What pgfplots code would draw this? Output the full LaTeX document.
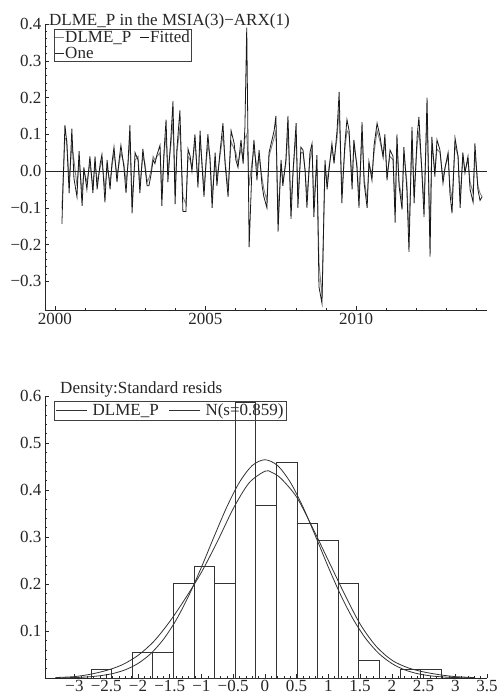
\documentclass[border=0pt]{standalone}
\usepackage{pgfplots}
\pgfplotsset{compat=1.18}
\usepackage{pgfplotstable}
\usepackage{fontspec}
\setmainfont{Liberation Serif}

\pgfplotstableread{
year act fit
2000.23 -0.144 -0.100
2000.33 0.125 0.090
2000.39 0.080 0.085
2000.47 -0.060 -0.030
2000.56 0.115 0.070
2000.63 -0.020 0.030
2000.73 -0.070 -0.040
2000.80 0.055 0.030
2000.90 -0.095 -0.060
2000.96 0.010 0.000
2001.06 -0.050 -0.030
2001.16 0.040 0.020
2001.26 -0.060 -0.040
2001.33 0.040 0.020
2001.40 -0.050 -0.030
2001.50 0.020 0.010
2001.56 0.045 0.030
2001.66 -0.085 -0.050
2001.73 0.030 0.010
2001.83 -0.050 -0.030
2001.89 0.020 0.010
2001.96 0.065 0.050
2002.06 -0.030 -0.010
2002.13 0.030 0.020
2002.19 0.070 0.050
2002.29 0.010 0.020
2002.36 -0.060 -0.030
2002.43 0.030 0.020
2002.49 0.125 0.090
2002.56 -0.115 -0.080
2002.66 0.050 0.030
2002.76 0.030 0.040
2002.82 -0.060 -0.040
2002.92 0.060 0.040
2002.99 0.010 0.020
2003.06 -0.040 -0.030
2003.12 -0.040 -0.020
2003.19 -0.010 0.000
2003.26 0.030 0.040
2003.32 0.020 0.030
2003.39 0.045 0.040
2003.49 0.070 0.050
2003.55 -0.095 -0.060
2003.62 0.050 0.040
2003.69 0.140 0.100
2003.75 -0.030 0.000
2003.85 0.090 0.070
2003.92 0.190 0.140
2003.99 -0.090 -0.050
2004.05 0.060 0.050
2004.15 0.165 0.120
2004.25 -0.110 -0.070
2004.35 -0.110 -0.090
2004.42 0.060 0.040
2004.49 0.040 0.030
2004.55 0.000 0.010
2004.65 0.100 0.080
2004.75 -0.045 -0.030
2004.82 0.110 0.080
2004.88 0.020 0.030
2004.95 -0.070 -0.050
2005.02 0.030 0.020
2005.08 0.100 0.070
2005.15 0.030 0.040
2005.22 -0.100 -0.070
2005.32 0.050 0.030
2005.38 -0.040 -0.020
2005.48 0.050 0.040
2005.58 0.130 0.100
2005.65 0.020 0.030
2005.75 -0.070 -0.050
2005.85 0.110 0.080
2005.95 0.076 0.060
2006.01 0.030 0.050
2006.08 0.010 0.020
2006.18 0.085 0.060
2006.25 0.020 0.030
2006.31 0.120 0.090
2006.37 0.390 0.100
2006.45 -0.207 -0.040
2006.54 0.000 0.020
2006.61 0.085 0.060
2006.71 -0.025 0.010
2006.78 0.057 0.040
2006.88 -0.040 -0.020
2006.94 -0.070 -0.050
2007.04 -0.100 -0.080
2007.11 0.050 0.040
2007.21 0.085 0.070
2007.28 0.110 0.090
2007.34 0.150 0.110
2007.41 -0.165 -0.120
2007.51 0.030 0.020
2007.57 -0.040 -0.030
2007.67 0.030 0.020
2007.74 0.150 0.110
2007.84 -0.130 -0.090
2007.91 0.000 0.000
2008.01 0.130 0.100
2008.07 -0.100 -0.070
2008.17 0.065 0.050
2008.24 0.057 0.050
2008.31 0.000 0.000
2008.37 -0.100 -0.070
2008.47 0.050 0.030
2008.54 0.075 0.060
2008.60 -0.125 -0.090
2008.70 0.043 0.030
2008.77 -0.315 -0.250
2008.87 -0.360 -0.340
2008.97 0.030 0.010
2009.04 -0.050 -0.030
2009.10 0.000 0.010
2009.20 0.075 0.060
2009.27 0.020 0.030
2009.37 0.110 0.090
2009.44 0.215 0.170
2009.53 -0.087 -0.060
2009.63 0.075 0.060
2009.70 0.140 0.110
2009.77 0.110 0.100
2009.87 -0.050 -0.030
2009.93 0.085 0.070
2010.03 0.010 0.020
2010.10 -0.100 -0.070
2010.20 0.133 0.100
2010.27 -0.033 -0.020
2010.37 -0.100 -0.080
2010.43 0.025 0.020
2010.53 -0.025 -0.010
2010.60 0.070 0.050
2010.70 0.130 0.110
2010.80 0.093 0.080
2010.90 0.038 0.040
2010.96 0.100 0.080
2011.03 -0.025 -0.010
2011.13 0.057 0.040
2011.23 0.040 0.030
2011.30 -0.140 -0.100
2011.36 0.100 0.070
2011.43 -0.040 -0.030
2011.53 -0.105 -0.080
2011.59 0.065 0.050
2011.69 -0.050 -0.030
2011.76 -0.220 -0.170
2011.86 0.120 0.090
2011.93 -0.087 -0.060
2012.03 0.093 0.070
2012.09 0.147 0.110
2012.19 -0.005 0.000
2012.26 -0.125 -0.090
2012.36 0.200 0.150
2012.46 -0.233 -0.180
2012.52 0.093 0.070
2012.62 -0.015 0.000
2012.69 0.085 0.060
2012.79 0.057 0.050
2012.89 -0.033 -0.020
2012.96 0.010 0.010
2013.06 0.050 0.040
2013.12 -0.060 -0.040
2013.19 -0.115 -0.080
2013.29 0.090 0.070
2013.39 0.040 0.040
2013.46 -0.100 -0.070
2013.55 0.050 0.040
2013.62 -0.005 0.000
2013.72 0.040 0.030
2013.79 -0.050 -0.030
2013.89 -0.085 -0.060
2013.95 0.075 0.050
2014.05 -0.050 -0.040
2014.12 -0.080 -0.060
2014.19 -0.070 -0.070
}\tsdata

\pgfplotstableread{
x h
-2.740 0.0183
-2.416 0.0
-2.091 0.055
-1.767 0.055
-1.442 0.2018
-1.118 0.2385
-0.793 0.2018
-0.469 0.587
-0.144 0.367
0.180 0.4585
0.505 0.330
0.829 0.2935
1.154 0.2018
1.478 0.0367
1.803 0.0
2.127 0.0183
2.452 0.0183
2.776 0.0183
}\histdata

\pgfplotstableread{
x k
-3.30 0.001
-3.00 0.003
-2.75 0.008
-2.50 0.016
-2.25 0.028
-2.00 0.048
-1.75 0.078
-1.50 0.120
-1.25 0.170
-1.00 0.225
-0.75 0.290
-0.50 0.360
-0.25 0.415
0.00 0.440
0.10 0.438
0.25 0.425
0.50 0.385
0.75 0.320
1.00 0.250
1.25 0.180
1.50 0.115
1.75 0.068
2.00 0.038
2.25 0.022
2.50 0.013
2.75 0.007
3.00 0.003
3.30 0.001
}\kerndata

\pgfplotstableread{
x n
-3.2 0.00045
-3.0 0.0010
-2.8 0.0023
-2.6 0.0048
-2.4 0.0094
-2.2 0.0175
-2.0 0.0309
-1.8 0.0517
-1.6 0.0820
-1.4 0.1231
-1.2 0.1750
-1.0 0.2358
-0.8 0.3010
-0.6 0.3639
-0.4 0.4167
-0.2 0.4520
0.0 0.4644
0.2 0.4520
0.4 0.4167
0.6 0.3639
0.8 0.3010
1.0 0.2358
1.2 0.1750
1.4 0.1231
1.6 0.0820
1.8 0.0517
2.0 0.0309
2.2 0.0175
2.4 0.0094
2.6 0.0048
2.8 0.0023
3.0 0.0010
3.2 0.00045
}\normdata

\newcommand{\fs}{\fontsize{17}{19}\selectfont}

\begin{document}
\begin{tikzpicture}
\useasboundingbox (0pt,0pt) rectangle (500pt,-695pt);
\pgfplotsset{
  common/.style={
    scale only axis,
    width=442pt,
    axis lines=left,
    axis line style={-, black!85, line width=0.6pt},
    tick align=inside,
    major tick length=4pt,
    minor tick length=2pt,
    tick style={black!85, line width=0.5pt},
    ticklabel style={font=\fs, text=black!85},
    clip mode=individual,
    legend cell align=left,
    legend style={fill=none, draw=black!75, line width=0.5pt, font=\fs, text=black!85,
      outer sep=0pt},
  }
}
\begin{axis}[common,
  at={(45pt,-310pt)}, anchor=south west,
  height=286pt,
  xmin=1999.668, xmax=2014.352, ymin=-0.378, ymax=0.4,
  xtick={2000,2005,2010}, xticklabels={2000,2005,2010},
  minor xtick={2001,2002,2003,2004,2006,2007,2008,2009,2011,2012,2013,2014},
  ytick={-0.3,-0.2,-0.1,0,0.1,0.2,0.3,0.4},
  yticklabels={−0.3,−0.2,−0.1,0.0,0.1,0.2,0.3,0.4},
  minor y tick num=4,
  legend columns=2,
  legend style={at={(0.02,0.981)}, anchor=north west, inner sep=1pt,
    nodes={inner sep=0.5pt}, row sep=2pt, column sep=0pt,
    /tikz/every even column/.append style={column sep=8pt}},
  legend image code/.code={\draw[#1] (0pt,0pt) -- (9pt,0pt);},
]
\addplot[black!50, line width=0.9pt] table[x=year,y=fit]{\tsdata};
\addlegendentry{DLME\_P}
\addplot[black!90, line width=0.8pt] table[x=year,y=act]{\tsdata};
\addlegendentry{Fitted}
\addplot[black!85, line width=0.6pt] coordinates {(1999.668,0) (2014.352,0)};
\addlegendentry{One}
\node[anchor=base west, font=\fs, text=black!85, inner sep=0pt] at (axis description cs:0.009,0.993) {DLME\_P in the MSIA(3)−ARX(1)};
\end{axis}

\begin{axis}[common,
  at={(45pt,-678pt)}, anchor=south west,
  height=282pt,
  xmin=-3.465, xmax=3.5, ymin=0, ymax=0.6,
  xtick={-3,-2.5,-2,-1.5,-1,-0.5,0,0.5,1,1.5,2,2.5,3,3.5},
  xticklabels={−3,−2.5,−2,−1.5,−1,−0.5,0,0.5,1,1.5,2,2.5,3,3.5},
  ytick={0,0.1,0.2,0.3,0.4,0.5,0.6},
  yticklabels={,0.1,0.2,0.3,0.4,0.5,0.6},
  minor x tick num=4,
  minor y tick num=4,
  xticklabel style={yshift=1pt},
  legend columns=2,
  legend style={at={(0.02,0.982)}, anchor=north west, inner sep=2pt,
    nodes={inner sep=1pt}, column sep=4pt,
    /tikz/every even column/.append style={column sep=9pt}},
  legend image code/.code={\draw[#1] (0pt,0pt) -- (31pt,0pt);},
]
\addplot[ybar interval, draw=black!80, fill=none, line width=0.6pt, forget plot] table[x=x,y=h]{\histdata};
\addplot[black!80, line width=0.8pt, smooth] table[x=x,y=k]{\kerndata};
\addlegendentry{DLME\_P}
\addplot[black!80, line width=0.8pt, smooth] table[x=x,y=n]{\normdata};
\addlegendentry{N(s=0.859)}
\node[anchor=base west, font=\fs, text=black!85, inner sep=0pt] at (axis description cs:0.034,1.0106) {Density:Standard resids};
\end{axis}
\end{tikzpicture}
\end{document}
